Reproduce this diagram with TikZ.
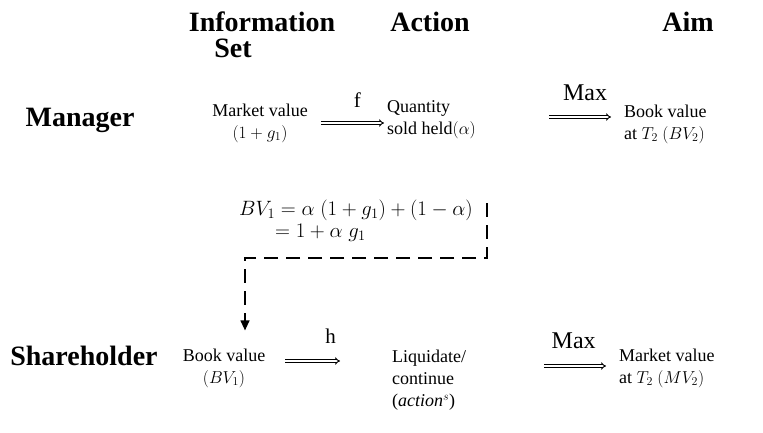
\documentclass[tikz,border=0pt]{standalone}
\usepackage{fontspec}
\setmainfont{LiberationSerif}[Extension=.ttf, UprightFont=*-Regular, BoldFont=*-Bold, ItalicFont=*-Italic, BoldItalicFont=*-BoldItalic]
\usetikzlibrary{positioning, calc, arrows.meta}

\tikzset{
  head/.style={font=\bfseries\fontsize{28}{30}\selectfont, inner sep=0pt},
  txt/.style={font=\fontsize{18}{22}\selectfont, inner sep=0pt},
  dbl/.style={double, double distance=1.5pt, line width=0.9pt, -{Implies}},
  lab/.style={font=\fontsize{21}{22}\selectfont, inner sep=0pt},
  maxlab/.style={font=\fontsize{24}{24}\selectfont, inner sep=0pt}
}

\begin{document}
\begin{tikzpicture}[x=1pt,y=-1pt]

        \useasboundingbox (0,0) rectangle (763,433);

        % Column headers
        \node[head] (hinfo) at (262,22) {Information};
        \node[head] (hset) at (233,48) {Set};
        \node[head] (haction) at (430,22) {Action};
        \node[head] (haim) at (688,22) {Aim};

        % Row headers
        \node[head] (mgr) at (80,120) {Manager};
        \node[head] (shr) at (84,356) {Shareholder};

        % Manager row
        \node[txt, align=center] (mv) at (260,123) {Market value\\$(1 + g_1)$};
        \node[txt, align=left, anchor=west] (qty) at (387,120) {Quantity\\sold held$(\alpha)$};
        \node[txt, align=left, anchor=west] (bvtwo) at (624,124) {Book value\\at $T_2$ $(BV_2)$};

        \draw[dbl, shorten <=13pt, shorten >=3pt] (mv.east) -- node[lab, above=15pt, xshift=10pt] {f} (qty.west |- mv.east);
        \draw[dbl, shorten <=73pt, shorten >=13pt] ([yshift=3pt]qty.east) -- node[maxlab, above=16pt, xshift=35pt] {Max} ([yshift=3pt]bvtwo.west |- qty.east);

        % Book value equation
        \node[txt, font=\fontsize{20}{22}\selectfont, align=left, anchor=west] (eq) at (239,221)
          {$BV_1 = \alpha\;(1 + g_1) + (1 - \alpha)$\\\hspace{1.8em}$= 1 + \alpha\; g_1$};

        % Dashed link down to the shareholder
        \coordinate (dtop) at (487,203);
        \coordinate (dcorner) at (245,258);

        % Shareholder row
        \node[txt, align=center] (bvs) at (224,368) {Book value\\$(BV_1)$};
        \node[txt, align=left, anchor=west] (liq) at (392,380) {Liquidate/\\continue\\(\textit{action}$^s$)};
        \node[txt, align=left, anchor=west] (mvs) at (619,368) {Market value\\at $T_2$ $(MV_2)$};

        \draw[very thick, dash pattern=on 14pt off 8pt, -{Triangle[length=10pt,width=9pt]}, shorten >=18pt]
          (dtop) |- (dcorner) -- (dcorner |- bvs.north);

        \draw[dbl, shorten <=20pt, shorten >=52pt] ([yshift=7pt]bvs.east) -- node[lab, above=17pt, xshift=2pt] {h} ([yshift=7pt]liq.west |- bvs.east);
        \draw[dbl, shorten <=78pt, shorten >=13pt] ([yshift=2pt]liq.east |- mvs.west) -- node[maxlab, above=17pt, xshift=31pt] {Max} ([yshift=2pt]mvs.west);

\end{tikzpicture}
\end{document}
